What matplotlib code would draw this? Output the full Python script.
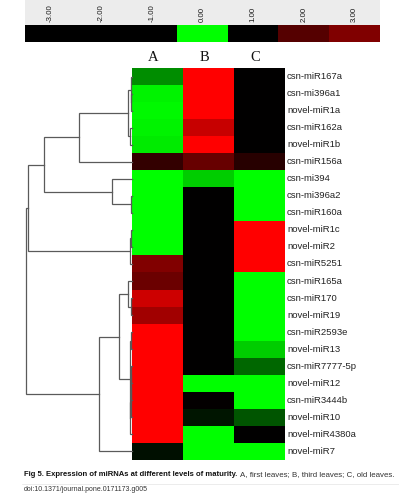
import matplotlib
matplotlib.use("Agg")
import matplotlib.pyplot as plt
from matplotlib.colors import LinearSegmentedColormap, ListedColormap
from matplotlib.patches import Rectangle
import numpy as np

# samples and miRNAs (rows in dendrogram order)
samples = ["A", "B", "C"]
mirnas = ["csn-miR167a", "csn-mi396a1", "novel-miR1a", "csn-miR162a", "novel-miR1b",
          "csn-miR156a", "csn-mi394", "csn-mi396a2", "csn-miR160a", "novel-miR1c",
          "novel-miR2", "csn-miR5251", "csn-miR165a", "csn-miR170", "novel-miR19",
          "csn-miR2593e", "novel-miR13", "csn-miR7777-5p", "novel-miR12", "csn-miR3444b",
          "novel-miR10", "novel-miR4380a", "novel-miR7"]

# relative expression per sample (-1 = full green, 0 = black, 1 = full red)
expr_A = [-0.55, -0.95, -0.97, -0.95, -0.92, 0.2, -1, -1, -1, -1, -1, 0.5,
          0.42, 0.8, 0.63, 1, 1, 1, 1, 1, 1, 1, -0.06]
expr_B = [1, 1, 1, 0.78, 1, 0.4, -0.8, 0, 0, 0, 0, 0,
          0, 0, 0, 0, 0, 0, -1, 0.01, -0.08, -1, -1]
expr_C = [0, 0, 0, 0, 0, 0.15, -1, -1, -1, 1, 1, 1,
          -1, -1, -1, -1, -0.8, -0.4, -1, -1, -0.33, 0, -1]

# colour key shown on top
key_levels = [-3, -2, -1, 0, 1, 2, 3]
key_colors = ["#000000", "#000000", "#000000", "#00ff00", "#000000", "#550000", "#800000"]

# row clustering: (left, right, height); index >= 23 refers to an earlier merge
merges = [
    (1, 2, 0.005), (0, 23, 0.010), (3, 4, 0.016), (24, 25, 0.032),
    (26, 5, 0.496), (7, 8, 0.005), (6, 28, 0.184), (27, 29, 0.827),
    (9, 10, 0.007), (31, 11, 0.016), (30, 32, 0.978), (13, 14, 0.007),
    (12, 34, 0.032), (15, 16, 0.005), (17, 18, 0.003), (37, 19, 0.006),
    (38, 20, 0.009), (39, 21, 0.012), (36, 40, 0.016), (35, 41, 0.123),
    (42, 22, 0.309), (33, 43, 1.0),
]

W, H = 399, 500


def box(x0, y0, x1, y1):
    return [x0 / W, 1 - y1 / H, (x1 - x0) / W, (y1 - y0) / H]


fig = plt.figure(figsize=(W / 100, H / 100), dpi=100)
fig.patch.set_facecolor("white")

# colour key
fig.patches.append(Rectangle((25 / W, 1 - 42 / H), 355 / W, 42 / H, transform=fig.transFigure,
                             facecolor="#ececec", edgecolor="none", zorder=-1))
ax_key = fig.add_axes(box(25, 25, 380, 42))
ax_key.imshow([key_levels], cmap=ListedColormap(key_colors), vmin=-3.5, vmax=3.5,
              aspect="auto", interpolation="nearest", extent=(-3.5, 3.5, 0, 1))
ax_key.xaxis.tick_top()
ax_key.set_xticks(key_levels)
ax_key.set_xticklabels(["%.2f" % v for v in key_levels], rotation=90, fontsize=5.7,
                       family="Liberation Sans", color="#1a1a1a")
ax_key.tick_params(length=0, pad=2.5)
ax_key.set_yticks([])
for s in ax_key.spines.values():
    s.set_visible(False)

# heatmap
cmap = LinearSegmentedColormap.from_list("gbr", ["#00ff00", "#000000", "#ff0000"])
data = np.column_stack([expr_A, expr_B, expr_C])
ax = fig.add_axes(box(132, 68.3, 285, 459.7))
ax.imshow(data, cmap=cmap, vmin=-1, vmax=1, aspect="auto", interpolation="nearest")
ax.axis("off")
for i, name in enumerate(mirnas):
    ax.text(2.54, i, name, va="center", ha="left", fontsize=6.8,
            family="Liberation Sans", color="#222222")
for j, s in enumerate(samples):
    ax.text(j - 0.08, -1.14, s, ha="center", va="center", fontsize=10.5,
            family="Liberation Serif", color="#111111")

# dendrogram
ax_d = fig.add_axes(box(0, 68.3, 132, 459.7))
n = len(mirnas)
pos = {i: (float(i), 0.0) for i in range(n)}
for k, (a, b, h) in enumerate(merges):
    ya, ha = pos[a]
    yb, hb = pos[b]
    ax_d.plot([ha, h, h, hb], [ya, ya, yb, yb], color="#5a5a5a", lw=0.9,
              solid_joinstyle="miter", clip_on=False)
    pos[n + k] = ((ya + yb) / 2, h)
ax_d.set_ylim(n - 0.5, -0.5)
ax_d.set_xlim(1.246, -0.003)
ax_d.axis("off")

# caption
fig.canvas.draw()
t1 = fig.text(24 / W, 1 - 475 / H, "Fig 5. Expression of miRNAs at different levels of maturity.",
              fontsize=5.5, weight="bold", family="Liberation Sans", va="center", color="#111111")
bb = t1.get_window_extent(fig.canvas.get_renderer())
fig.text((bb.x1 + 2.5) / W, 1 - 475 / H, "A, first leaves; B, third leaves; C, old leaves.",
         fontsize=5.65, family="Liberation Sans", va="center", color="#333333")
fig.add_artist(plt.Line2D([22 / W, 1], [1 - 483.5 / H, 1 - 483.5 / H], color="#e4e4e4", lw=0.5))
fig.text(24 / W, 1 - 489.5 / H, "doi:10.1371/journal.pone.0171173.g005", fontsize=5.0,
         family="Liberation Sans", va="center", color="#333333")

fig.savefig("out.png", dpi=100)
